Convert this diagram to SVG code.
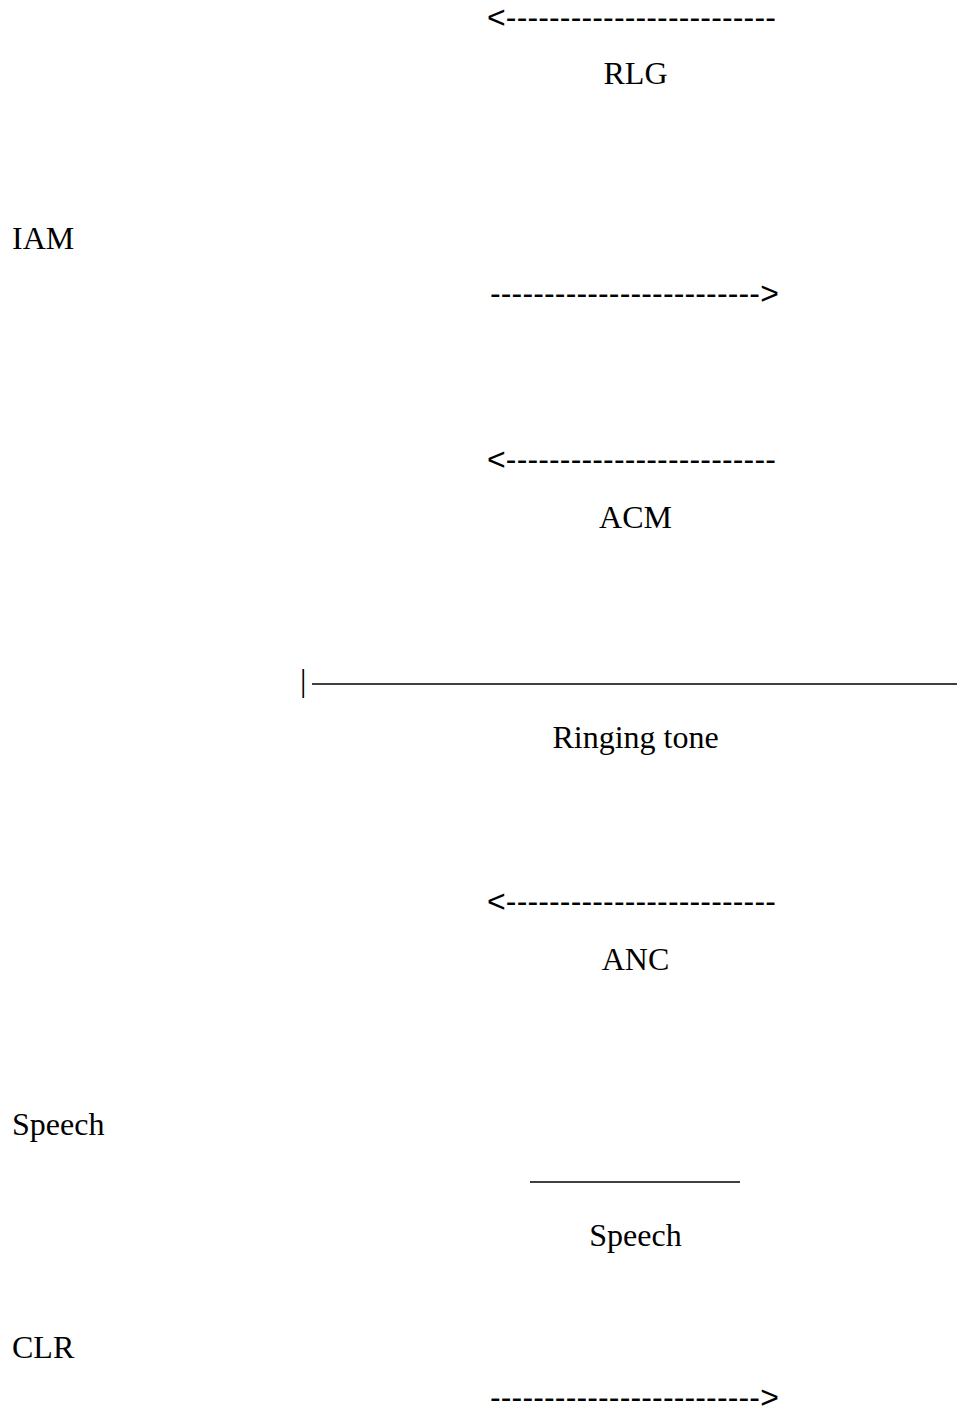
<svg xmlns="http://www.w3.org/2000/svg" width="957" height="1414" viewBox="0 0 957 1414">
<style>
text{font-family:"Liberation Serif","Times New Roman",serif;font-size:32px;fill:#000}
.c{text-anchor:middle}
.a{font-family:"Liberation Sans",Arial,sans-serif;letter-spacing:0.15px}
.ln{stroke:#000;stroke-width:1.5;fill:none}
</style>
<rect width="957" height="1414" fill="#fff"/>
<g id="left-labels">
<text x="12" y="249">IAM</text>
<text x="12" y="1135">Speech</text>
<text x="12" y="1358">CLR</text>
</g>
<g id="connectors">
<text class="a" x="487" y="28">&lt;-------------------------</text>
<text class="a" x="490" y="304">-------------------------&gt;</text>
<text class="a" x="487" y="470">&lt;-------------------------</text>
<text x="300" y="691">|</text>
<line class="ln" x1="312" y1="684" x2="957" y2="684"/>
<text class="a" x="487" y="912">&lt;-------------------------</text>
<line class="ln" x1="530" y1="1182" x2="740" y2="1182"/>
<text class="a" x="490" y="1408">-------------------------&gt;</text>
</g>
<g id="labels">
<text class="c" x="635.5" y="84">RLG</text>
<text class="c" x="635.5" y="528">ACM</text>
<text class="c" x="635.5" y="748">Ringing tone</text>
<text class="c" x="635.5" y="970">ANC</text>
<text class="c" x="635.5" y="1246">Speech</text>
</g>
</svg>
